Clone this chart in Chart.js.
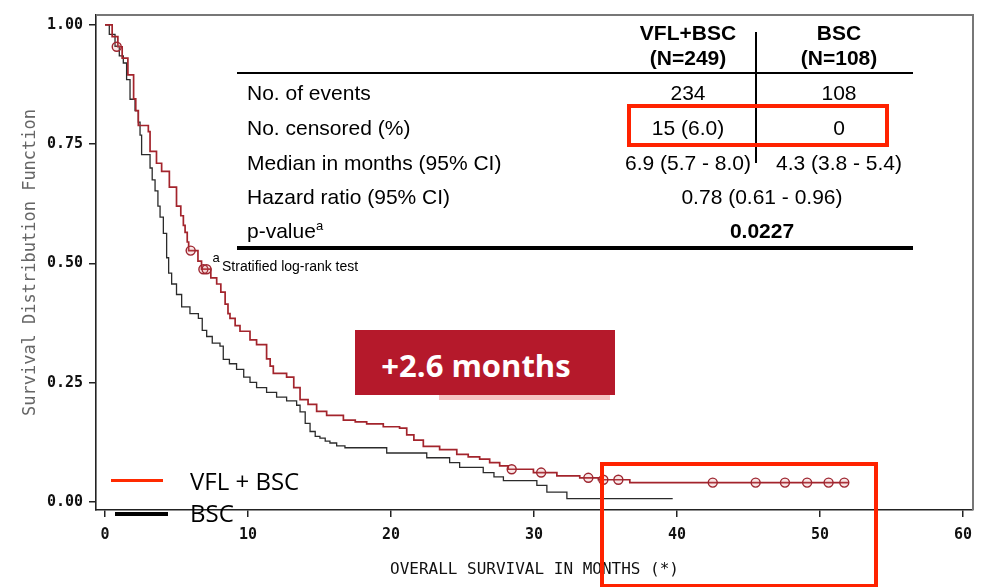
<!DOCTYPE html>
<html>
<head>
<meta charset="utf-8">
<script src="https://cdn.jsdelivr.net/npm/chart.js@4.4.1/dist/chart.umd.min.js"></script>
<style>
  body { margin: 0; background: #fff; }
  #wrap { position: relative; width: 983px; height: 587px; overflow: hidden; background: #fff; }
  #c { position: absolute; left: 0; top: 0; }
  .ov { position: absolute; white-space: nowrap; line-height: 1; }
  .tb { font-family: 'Liberation Sans', Arial, sans-serif; font-size: 21px; color: #000; }
  .cc { transform: translate(-50%, -50%); }
  .lc { transform: translateY(-50%); }
  .b { font-weight: bold; }
  .rule { position: absolute; background: #000; }
  .rbox { position: absolute; border: 4px solid #ff2200; box-sizing: border-box; }
  .os { font-family: 'Open Sans', sans-serif; }
</style>
</head>
<body>
<div id="wrap">
  <canvas id="c" width="983" height="587"></canvas>
</div>
<script>
// ---------- data ----------
const xTicks = [0, 10, 20, 30, 40, 50, 60];
const yTicks = [0, 0.25, 0.5, 0.75, 1.0];

// VFL + BSC Kaplan-Meier steps (months, survival)
const vflTime = [0, 0.1, 0.5, 0.9, 1.2, 1.6, 2.0, 2.15, 2.33, 3.03, 3.15, 3.6, 3.96, 4.5, 5.0, 5.3, 5.48, 5.6, 5.75, 5.85, 6.5, 6.75, 7.4, 7.81, 8.1, 8.4, 8.6, 8.74, 9.1, 9.44, 10.14, 10.6, 11.3, 11.55, 11.77, 12.7, 13.2, 13.64, 14.2, 14.8, 15.5, 16.67, 17.5, 18.3, 19.46, 20.6, 21.1, 21.6, 22.26, 23.4, 24.6, 25.4, 26.2, 26.9, 27.6, 28.2, 29.96, 31.6, 33.2, 34.5, 36.7, 52.0];
const vflSurv = [1.0, 1.0, 0.975, 0.954, 0.93, 0.895, 0.845, 0.82, 0.789, 0.776, 0.735, 0.71, 0.693, 0.66, 0.62, 0.60, 0.58, 0.565, 0.545, 0.527, 0.505, 0.488, 0.47, 0.457, 0.44, 0.415, 0.395, 0.385, 0.37, 0.358, 0.34, 0.33, 0.30, 0.285, 0.27, 0.262, 0.24, 0.215, 0.205, 0.19, 0.182, 0.172, 0.168, 0.164, 0.158, 0.155, 0.141, 0.13, 0.117, 0.11, 0.10, 0.095, 0.09, 0.083, 0.076, 0.069, 0.062, 0.055, 0.051, 0.047, 0.041, 0.041];

// BSC Kaplan-Meier steps (months, survival)
const bscTime = [0, 0.3, 0.7, 1.0, 1.28, 1.51, 1.75, 2.1, 2.33, 2.45, 2.56, 3.15, 3.3, 3.5, 3.7, 3.85, 4.08, 4.31, 4.45, 4.66, 5.0, 5.36, 5.94, 6.53, 6.8, 7.11, 7.5, 8.04, 8.27, 8.7, 9.2, 9.7, 10.14, 10.6, 11.3, 12.0, 12.7, 13.4, 13.64, 14.0, 14.34, 14.7, 15.03, 15.4, 15.73, 16.2, 16.78, 19.7, 22.5, 24.1, 24.8, 26.45, 27.2, 27.86, 30.2, 30.9, 32.3, 39.7];
const bscSurv = [1.0, 0.98, 0.955, 0.935, 0.92, 0.885, 0.844, 0.82, 0.796, 0.769, 0.728, 0.70, 0.675, 0.652, 0.62, 0.597, 0.563, 0.512, 0.48, 0.457, 0.435, 0.409, 0.395, 0.385, 0.36, 0.347, 0.333, 0.327, 0.299, 0.29, 0.278, 0.262, 0.251, 0.24, 0.23, 0.22, 0.212, 0.203, 0.189, 0.165, 0.148, 0.138, 0.134, 0.128, 0.124, 0.118, 0.114, 0.103, 0.093, 0.083, 0.073, 0.062, 0.053, 0.045, 0.035, 0.021, 0.0075, 0.0075];

// VFL + BSC censored observations
const censorTime = [0.82, 5.99, 6.88, 7.1, 28.44, 30.5, 33.8, 34.85, 35.9, 42.5, 45.5, 47.55, 49.1, 50.6, 51.7];
const censorSurv = [0.954, 0.527, 0.488, 0.488, 0.069, 0.062, 0.051, 0.047, 0.047, 0.041, 0.041, 0.041, 0.041, 0.041, 0.041];

// summary table
const colHeads = ['VFL+BSC', 'BSC'];
const colN = ['(N=249)', '(N=108)'];
const rowLabels = ['No. of events', 'No. censored (%)', 'Median in months (95% CI)', 'Hazard ratio (95% CI)', 'p-value'];
const vflCol = ['234', '15 (6.0)', '6.9 (5.7 - 8.0)'];
const bscCol = ['108', '0', '4.3 (3.8 - 5.4)'];
const hazardRatio = '0.78 (0.61 - 0.96)';
const pValue = '0.0227';
const footnote = 'Stratified log-rank test';
const legendLabels = ['VFL + BSC', 'BSC'];
const gainLabel = '+2.6 months';
const xTitle = 'OVERALL SURVIVAL IN MONTHS (*)';
const yTitle = 'Survival Distribution Function';

// ---------- chart ----------
const toPts = (t, s) => t.map((v, i) => ({ x: v, y: s[i] }));

const frame = {
  id: 'frame',
  afterDraw(chart) {
    const { ctx, chartArea: a } = chart;
    ctx.save();
    ctx.strokeStyle = '#777';
    ctx.lineWidth = 2;
    ctx.beginPath();
    ctx.moveTo(a.left, a.top);
    ctx.lineTo(a.right, a.top);
    ctx.lineTo(a.right, a.bottom);
    ctx.stroke();
    ctx.restore();
  }
};

const tickFont = { family: "'DejaVu Sans Mono', monospace", size: 15, weight: 'bold' };

new Chart(document.getElementById('c'), {
  type: 'line',
  data: {
    datasets: [
      {
        label: 'censored',
        data: toPts(censorTime, censorSurv),
        showLine: false,
        pointStyle: 'circle',
        pointRadius: 4.5,
        pointBorderWidth: 1.4,
        pointBorderColor: '#9e2630',
        pointBackgroundColor: 'rgba(220,120,120,0.18)'
      },
      {
        label: legendLabels[0],
        data: toPts(vflTime, vflSurv),
        stepped: 'before',
        borderColor: '#a3242c',
        borderWidth: 1.7,
        pointRadius: 0,
        fill: false
      },
      {
        label: legendLabels[1],
        data: toPts(bscTime, bscSurv),
        stepped: 'before',
        borderColor: '#2b2b2b',
        borderWidth: 1.3,
        pointRadius: 0,
        fill: false
      }
    ]
  },
  options: {
    responsive: false,
    animation: false,
    events: [],
    layout: { padding: { top: 5, right: 10, left: 0, bottom: 0 } },
    plugins: { legend: { display: false }, tooltip: { enabled: false } },
    scales: {
      x: {
        type: 'linear',
        min: -0.63,
        max: 60.7,
        afterBuildTicks: s => { s.ticks = xTicks.map(v => ({ value: v })); },
        afterFit: s => { s.height = 77; },
        ticks: { font: tickFont, color: '#111', padding: 9, maxRotation: 0, callback: v => String(v) },
        grid: { drawOnChartArea: false, drawTicks: true, tickLength: 7, color: '#222', lineWidth: 1.5 },
        border: { display: true, color: '#222', width: 1.6 },
        title: {
          display: true, text: xTitle, color: '#111',
          font: { family: "'DejaVu Sans Mono', monospace", size: 16 },
          padding: { top: 0, bottom: 8 }
        }
      },
      y: {
        type: 'linear',
        min: -0.0164,
        max: 1.0205,
        afterBuildTicks: s => { s.ticks = yTicks.map(v => ({ value: v })); },
        afterFit: s => { s.width = 96; },
        ticks: { font: tickFont, color: '#111', padding: 6, callback: v => Number(v).toFixed(2) },
        grid: { drawOnChartArea: false, drawTicks: true, tickLength: 7, color: '#222', lineWidth: 1.5 },
        border: { display: true, color: '#222', width: 1.6 },
        title: {
          display: true, text: yTitle, color: '#666',
          font: { family: "'DejaVu Sans Mono', monospace", size: 17 },
          padding: { top: 20, bottom: 0 }
        }
      }
    }
  },
  plugins: [frame]
});

// ---------- overlays: table, annotations, legend ----------
const wrap = document.getElementById('wrap');
function txt(text, x, y, cls, style) {
  const d = document.createElement('div');
  d.className = 'ov ' + cls;
  d.textContent = text;
  d.style.left = x + 'px';
  d.style.top = y + 'px';
  if (style) Object.assign(d.style, style);
  wrap.appendChild(d);
  return d;
}
function box(cls, x, y, w, h, style) {
  const d = document.createElement('div');
  d.className = cls;
  Object.assign(d.style, { left: x + 'px', top: y + 'px', width: w + 'px', height: h + 'px' }, style || {});
  wrap.appendChild(d);
  return d;
}

const colX = [688, 839];
colHeads.forEach((h, i) => txt(h, colX[i], 32, 'tb b cc'));
colN.forEach((h, i) => txt(h, colX[i], 57, 'tb b cc'));
box('rule', 237, 72, 676, 1.5);
box('rule', 755, 32, 2, 131);
const rowY = [92, 127, 162, 196, 230];
rowLabels.forEach((r, i) => {
  const d = txt(r, 247, rowY[i], 'tb lc');
  if (i === 4) {
    const s = document.createElement('sup');
    s.textContent = 'a';
    s.style.fontSize = '13px';
    s.style.verticalAlign = '8px';
    d.appendChild(s);
  }
});
vflCol.forEach((v, i) => txt(v, colX[0], rowY[i], 'tb cc'));
bscCol.forEach((v, i) => txt(v, colX[1], rowY[i], 'tb cc'));
txt(hazardRatio, 762, rowY[3], 'tb cc');
txt(pValue, 762, rowY[4], 'tb b cc');
box('rule', 237, 246, 676, 4);
txt('a', 216, 257, 'tb cc', { fontSize: '13px' });
txt(footnote, 222, 266, 'tb lc', { fontSize: '14px' });

box('rbox', 627, 104, 262, 43);

// "+2.6 months" label
box('ov', 439, 394, 171, 6, { background: '#f6c3c3' });
box('ov', 355, 330, 260, 65, { background: '#b5192b' });
txt(gainLabel, 476, 365, 'os cc', { fontSize: '31px', fontWeight: '700', color: '#fff' });

box('rbox', 600, 462, 278, 126);

// legend
box('ov', 111, 479, 52, 3, { background: '#ff2a00' });
box('ov', 115, 512, 53, 3.5, { background: '#000' });
txt(legendLabels[0], 190, 481, 'os lc', { fontSize: '24px', color: '#000' });
txt(legendLabels[1], 190, 513, 'os lc', { fontSize: '24px', color: '#000' });
</script>
</body>
</html>
